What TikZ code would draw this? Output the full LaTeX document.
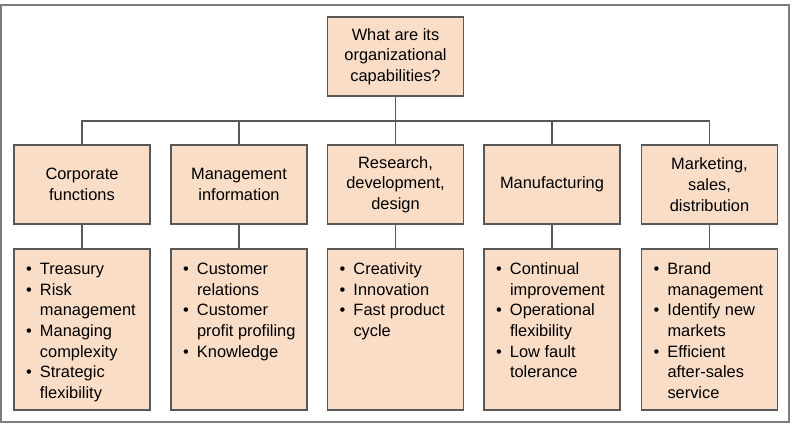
\documentclass[tikz,border=0pt]{standalone}
\usepackage{fontspec}
\setmainfont{Liberation Sans}
\definecolor{peach}{RGB}{249,221,198}
\definecolor{edgegray}{RGB}{88,88,88}
\definecolor{framegray}{RGB}{125,125,125}
% one bullet line with hanging indent
\newcommand{\bul}[1]{\par\hangindent=17pt\hangafter=1\noindent\makebox[17pt][l]{\hspace{3pt}\textbullet}\strut#1}
\newcommand{\blist}[1]{\parbox[t][139pt][t]{118pt}{\raggedright\hyphenpenalty=10000\exhyphenpenalty=10000 #1}}
\begin{document}
\begin{tikzpicture}[x=1pt, y=1pt,
    box/.style={draw=edgegray, fill=peach, line width=1.2pt, minimum width=136pt,
        minimum height=79pt, inner sep=0pt, align=center,
        font=\fontsize{16.4}{20.7}\selectfont},
    listbox/.style={box, minimum height=161pt, inner xsep=9pt, inner ysep=11pt},
    link/.style={draw=edgegray, line width=1.4pt}]
    \useasboundingbox (0,0) rectangle (793,426);
    \draw[framegray, line width=1.2pt] (1,4) rectangle (789,421);
    % question
    \node[box] (top) at (395.5,369.5) {What are its\\organizational\\capabilities?};
    % areas
    \node[box] (corp) at (82,241.5) {Corporate\\functions};
    \node[box] (mgmt) at (239,241.5) {Management\\information};
    \node[box] (rdd) at (395.5,241.5) {Research,\\development,\\design};
    \node[box] (manu) at (552,241.5) {Manufacturing};
    \node[box] (mark) at (709.5,241.5) {Marketing,\\sales,\\distribution};
    % capabilities
    \node[listbox] (corpL) at (82,96.5) {\blist{\bul{Treasury}\bul{Risk management}\bul{Managing complexity}\bul{Strategic flexibility}}};
    \node[listbox] (mgmtL) at (239,96.5) {\blist{\bul{Customer relations}\bul{Customer profit profiling}\bul{Knowledge}}};
    \node[listbox] (rddL) at (395.5,96.5) {\blist{\bul{Creativity}\bul{Innovation}\bul{Fast product cycle}}};
    \node[listbox] (manuL) at (552,96.5) {\blist{\bul{Continual improvement}\bul{Operational flexibility}\bul{Low fault tolerance}}};
    \node[listbox] (markL) at (709.5,96.5) {\blist{\bul{Brand management}\bul{Identify new markets}\bul{Efficient after-sales service}}};
    % tree
    \coordinate (bus) at (395.5,305);
    \draw[link] (top.south) -- (bus);
    \draw[link] (corp.north) |- (bus) -| (mark.north);
    \foreach \n in {mgmt,rdd,manu}
        \draw[link] (\n.north) -- (\n.north |- bus);
    \foreach \n in {corp,mgmt,rdd,manu,mark}
        \draw[link] (\n.south) -- (\n L.north);
\end{tikzpicture}
\end{document}
